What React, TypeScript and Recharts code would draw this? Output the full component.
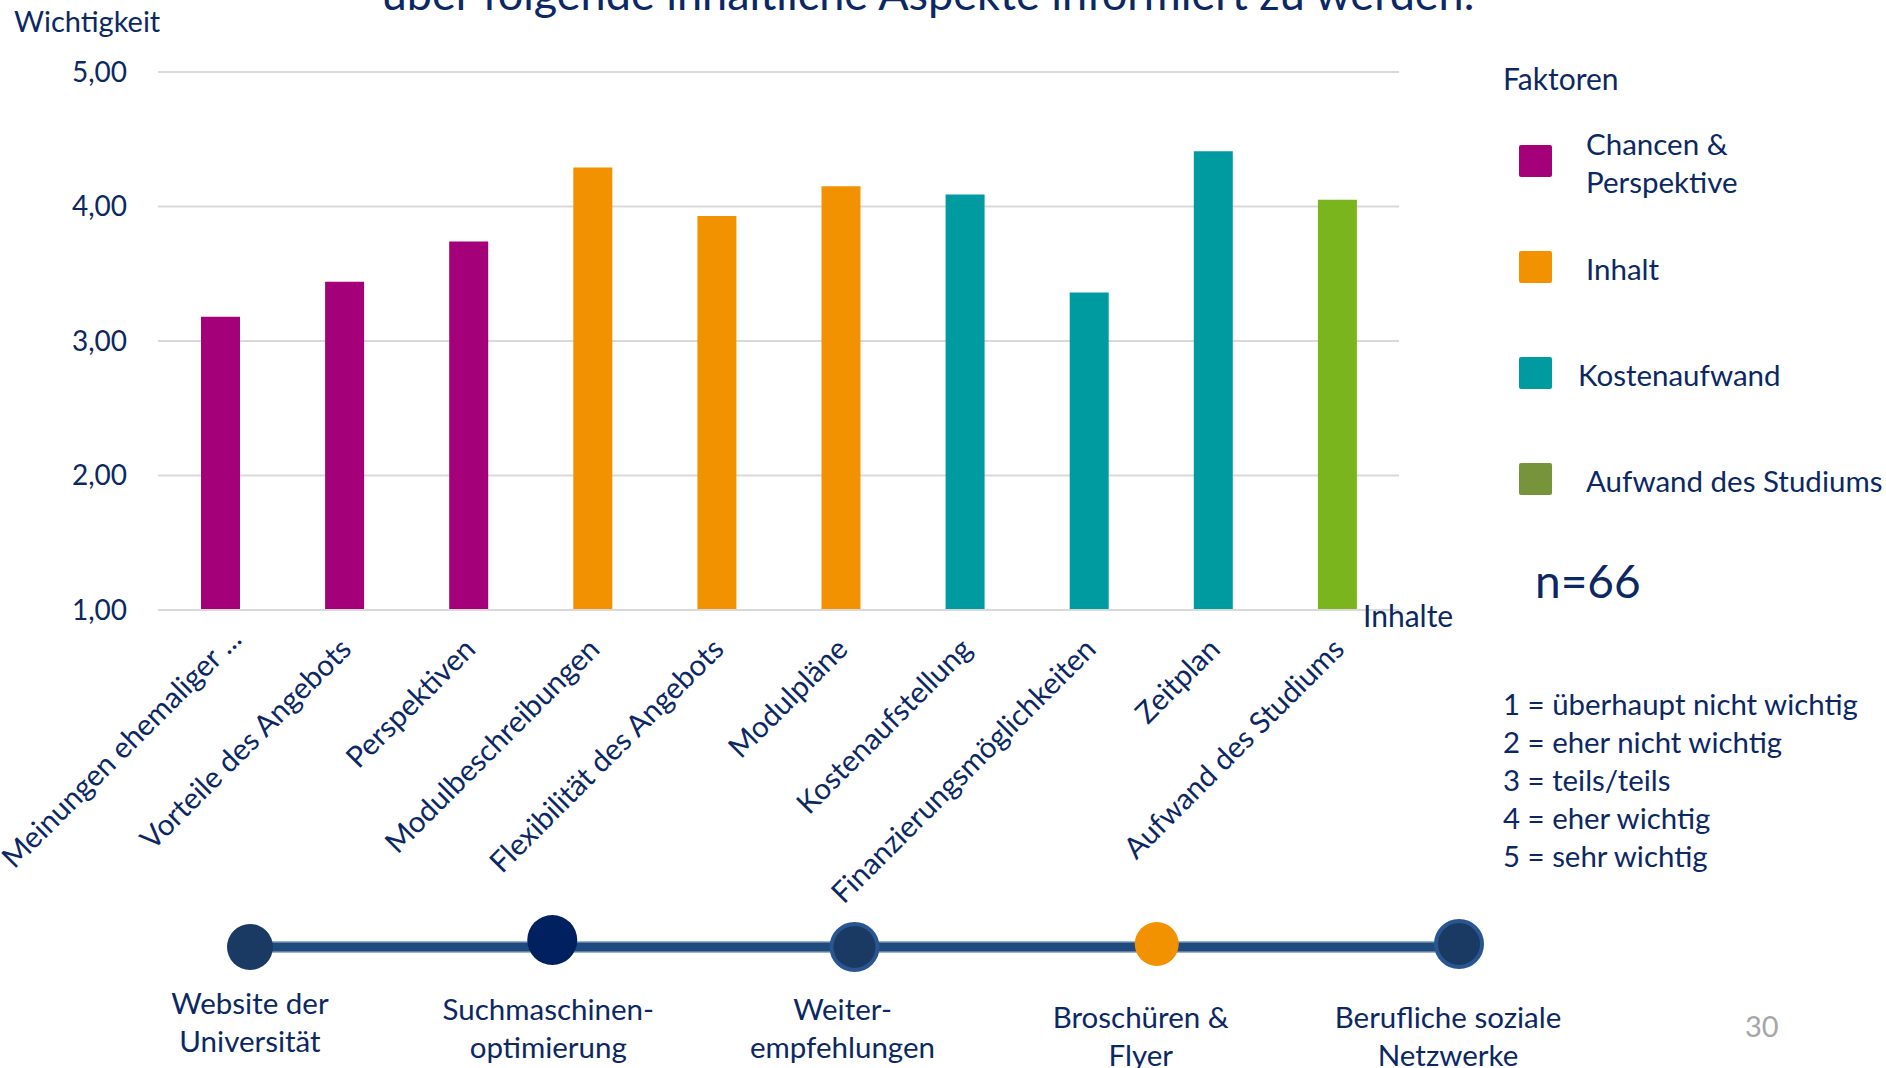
import React from 'react'
import { BarChart, Bar, Cell, XAxis, YAxis, CartesianGrid, LineChart, Line } from 'recharts'

const NAVY = '#0b2865'
const GRID = '#d9d9d9'
const FONT = 'Lato, "Open Sans", sans-serif'

// Inhalte (Kategorien der x-Achse)
const inhalte = [
  'Meinungen ehemaliger ...',
  'Vorteile des Angebots',
  'Perspektiven',
  'Modulbeschreibungen',
  'Flexibilität des Angebots',
  'Modulpläne',
  'Kostenaufstellung',
  'Finanzierungsmöglichkeiten',
  'Zeitplan',
  'Aufwand des Studiums',
]
// Mittelwerte der Wichtigkeit (1 - 5)
const wichtigkeit = [3.18, 3.44, 3.74, 4.29, 3.93, 4.15, 4.09, 3.36, 4.41, 4.05]
// Faktor je Inhalt (Index in faktoren)
const faktorJeInhalt = [0, 0, 0, 1, 1, 1, 2, 2, 2, 3]

const faktoren = [['Chancen &', 'Perspektive'], ['Inhalt'], ['Kostenaufwand'], ['Aufwand des Studiums']]
const barColors = ['#a3007a', '#f39200', '#009ba1', '#7ab51d']
const legendColors = ['#a3007a', '#f39200', '#009ba1', '#77933c']

const yTicks = [1, 2, 3, 4, 5]

const skala = [
  '1 = überhaupt nicht wichtig',
  '2 = eher nicht wichtig',
  '3 = teils/teils',
  '4 = eher wichtig',
  '5 = sehr wichtig',
]

// Informationskanäle (Zeitstrahl unten)
const kanaele = [
  'Website der\nUniversität',
  'Suchmaschinen-\noptimierung',
  'Weiter-\nempfehlungen',
  'Broschüren &\nFlyer',
  'Berufliche soziale\nNetzwerke',
]
const kanalStufe = [0, 0, 0, 0, 0]

// Darstellung der Punkte und Beschriftungen auf dem Zeitstrahl
const dotStyles = [
  { r: 23, fill: '#1b3a63', stroke: 'none', sw: 0, lift: 0 },
  { r: 25, fill: '#002060', stroke: 'none', sw: 0, lift: 7 },
  { r: 23, fill: '#1b3a63', stroke: '#2a5591', sw: 4, lift: 0 },
  { r: 22, fill: '#f39200', stroke: 'none', sw: 0, lift: 3 },
  { r: 23, fill: '#1b3a63', stroke: '#2a5591', sw: 4, lift: 3 },
]
const labelShift = [
  { dx: 0, dy: -6 },
  { dx: -4, dy: 0 },
  { dx: -12, dy: 0 },
  { dx: -16, dy: 8 },
  { dx: -11, dy: 8 },
]
// kleine Verschiebung einzelner Achsenbeschriftungen
const inhaltNudge = [{ dx: 14, dy: -10 }]

const rows = inhalte.map((name, i) => ({ name, wert: wichtigkeit[i], faktor: faktorJeInhalt[i] }))
const kanalRows = kanaele.map((kanal, i) => ({ kanal, stufe: kanalStufe[i] }))

function InhaltTick({ x, y, payload, index }: any) {
  const n = inhaltNudge[index] || { dx: 0, dy: 0 }
  return (
    <g transform={`translate(${x + 9 + n.dx},${y + 41 + n.dy})`}>
      <text textAnchor="end" transform="rotate(-45)" fill={NAVY} fontSize={29.5} fontFamily={FONT}>
        {payload.value}
      </text>
    </g>
  )
}

function KanalTick({ x, y, payload, index }: any) {
  const lines = String(payload.value).split('\n')
  const s = labelShift[index] || { dx: 0, dy: 0 }
  const cx = x + s.dx
  return (
    <text x={cx} y={y + 43 + s.dy} textAnchor="middle" fill={NAVY} fontSize={29.5} fontFamily={FONT}>
      {lines.map((l, i) => (
        <tspan key={i} x={cx} dy={i === 0 ? 0 : 38}>
          {l}
        </tspan>
      ))}
    </text>
  )
}

function KanalDot({ cx, cy, index }: any) {
  const s = dotStyles[index]
  return (
    <circle key={index} cx={cx} cy={cy - s.lift} r={s.r} fill={s.fill} stroke={s.stroke} strokeWidth={s.sw} />
  )
}

export default function App() {
  return (
    <div
      style={{
        position: 'absolute',
        left: 0,
        top: 0,
        width: 1886,
        height: 1068,
        overflow: 'hidden',
        background: '#fff',
        fontFamily: FONT,
      }}
    >
      <div style={{ position: 'absolute', left: 0, top: 0 }}>
        <BarChart width={1500} height={920} data={rows} margin={{ top: 72, right: 101, bottom: 0, left: 0 }}>
          <CartesianGrid vertical={false} stroke={GRID} strokeWidth={2} />
          <XAxis
            dataKey="name"
            interval={0}
            height={310}
            tickLine={false}
            tickSize={0}
            tickMargin={0}
            axisLine={{ stroke: GRID, strokeWidth: 2 }}
            tick={(p: any) => <InhaltTick {...p} />}
          />
          <YAxis
            domain={[1, 5]}
            ticks={yTicks}
            width={158}
            axisLine={false}
            tickLine={false}
            tickSize={0}
            tickMargin={31}
            tickFormatter={(v: number) => v.toFixed(2).replace('.', ',')}
            tick={{ fontSize: 28, fill: NAVY, fontFamily: FONT }}
          />
          <Bar dataKey="wert" barSize={39} isAnimationActive={false}>
            {rows.map((r, i) => (
              <Cell key={i} fill={barColors[r.faktor]} />
            ))}
          </Bar>
        </BarChart>
      </div>

      <div style={{ position: 'absolute', left: 0, top: 900 }}>
        <LineChart width={1886} height={168} data={kanalRows} margin={{ top: 17, right: 427, bottom: 0, left: 250 }}>
          <XAxis
            dataKey="kanal"
            scale="point"
            interval={0}
            height={91}
            axisLine={false}
            tickLine={false}
            tickSize={0}
            tickMargin={0}
            tick={(p: any) => <KanalTick {...p} />}
          />
          <YAxis hide domain={[-1, 1]} />
          <Line dataKey="stufe" stroke="#9fb2cb" strokeWidth={12} dot={false} isAnimationActive={false} />
          <Line
            dataKey="stufe"
            stroke="#1f4a7e"
            strokeWidth={9}
            dot={(p: any) => <KanalDot {...p} />}
            isAnimationActive={false}
          />
        </LineChart>
      </div>

      <svg
        width={1886}
        height={1068}
        style={{ position: 'absolute', left: 0, top: 0, pointerEvents: 'none' }}
        fontFamily={FONT}
        fill={NAVY}
      >
        <text x={928} y={10} textAnchor="middle" fontSize={45}>
          über folgende inhaltliche Aspekte informiert zu werden.
        </text>
        <text x={14} y={32} fontSize={29}>
          Wichtigkeit
        </text>
        <text x={1363} y={627} fontSize={30}>
          Inhalte
        </text>
        <text x={1503} y={90} fontSize={30}>
          Faktoren
        </text>
        {faktoren.map((lines, i) => {
          const cy = 161 + i * 106
          const first = cy + 13 - ((lines.length - 1) * 38) / 2
          const tx = i === 2 ? 1578 : 1586
          return (
            <g key={i}>
              <rect x={1519} y={cy - 16} width={33} height={32} rx={2} fill={legendColors[i]} />
              <text x={tx} y={first} fontSize={29.5}>
                {lines.map((l, j) => (
                  <tspan key={j} x={tx} dy={j === 0 ? 0 : 38}>
                    {l}
                  </tspan>
                ))}
              </text>
            </g>
          )
        })}
        <text x={1535} y={598} fontSize={46}>
          n=66
        </text>
        {skala.map((s, i) => (
          <text key={i} x={1503} y={715 + i * 38} fontSize={29.4}>
            {s}
          </text>
        ))}
        <text x={1745} y={1037} fontSize={29} fill="#a6a6a6">
          30
        </text>
      </svg>
    </div>
  )
}
